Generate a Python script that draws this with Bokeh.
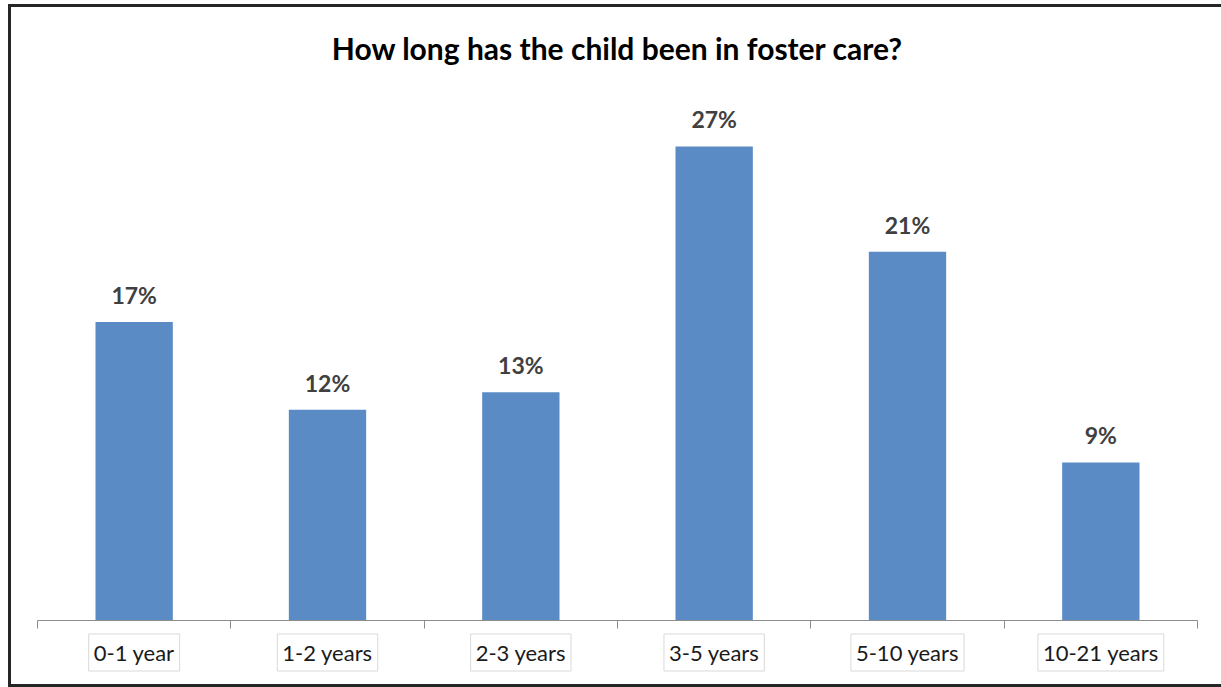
from bokeh.plotting import figure
from bokeh.models import ColumnDataSource, Range1d, FixedTicker, Label
from bokeh.core.properties import value
from bokeh.embed import file_html
from bokeh.resources import INLINE

# Survey responses: time spent in foster care
categories = ["0-1 year", "1-2 years", "2-3 years", "3-5 years", "5-10 years", "10-21 years"]
percent = [17, 12, 13, 27, 21, 9]
title_text = "How long has the child been in foster care?"

FONT = "Lato"
W, H = 1210, 677          # canvas inside the frame line
OFF_X, OFF_Y = 11, 7      # canvas offset on the page
TOP_PANEL = 20            # space above the plotting area

# page pixel geometry of the category axis
AXIS_LEFT, AXIS_RIGHT, BASELINE = 37, 1197, 620
PX_PER_UNIT_X = (AXIS_RIGHT - AXIS_LEFT) / len(categories)
PX_PER_PCT = 17.56

frame_left, frame_right = OFF_X, OFF_X + W
frame_top, frame_bottom = OFF_Y + TOP_PANEL, OFF_Y + H

x_range = Range1d((frame_left - AXIS_LEFT) / PX_PER_UNIT_X,
                  (frame_right - AXIS_LEFT) / PX_PER_UNIT_X)
y_range = Range1d((BASELINE - frame_bottom) / PX_PER_PCT,
                  (BASELINE - frame_top) / PX_PER_PCT)

def page_y(py):
    return (BASELINE - py) / PX_PER_PCT

p = figure(width=W, height=H, output_backend="svg", toolbar_location=None,
           x_range=x_range, y_range=y_range,
           x_axis_location="above", y_axis_location=None,
           min_border_left=0, min_border_right=0,
           min_border_top=TOP_PANEL, min_border_bottom=0)
p.outline_line_color = None
p.grid.visible = False
p.background_fill_color = "white"
p.border_fill_color = "white"
# dark frame line on the left, top and bottom, just outside the canvas;
# the negative bottom margin keeps the page from growing a scrollbar
FRAME = "#262626"
p.styles = {"margin-left": f"{OFF_X}px", "margin-top": f"{OFF_Y}px",
            "margin-bottom": "-12px", "vertical-align": "top",
            "box-shadow": (f"-3px 0 0 0 {FRAME}, 0 -3px 0 0 {FRAME}, 0 3px 0 0 {FRAME}, "
                           f"-3px -3px 0 0 {FRAME}, -3px 3px 0 0 {FRAME}")}

# category axis sitting on zero, with ticks at the group boundaries
ax = p.xaxis[0]
ax.fixed_location = 0
ax.bounds = (0, len(categories))
ax.ticker = FixedTicker(ticks=[], minor_ticks=list(range(len(categories) + 1)))
ax.major_tick_line_color = None
ax.minor_tick_in = 8
ax.minor_tick_out = 0
ax.minor_tick_line_color = "#8c8c8c"
ax.axis_line_color = "#8c8c8c"

centers = [i + 0.5 for i in range(len(categories))]
src = ColumnDataSource(dict(
    x=centers,
    top=percent,
    label=[f"{v}%" for v in percent],
))

p.vbar(x="x", top="top", width=0.4, bottom=0, source=src,
       fill_color="#5b8bc5", line_color=None)

p.text(x="x", y="top", text="label", source=src,
       text_align="center", text_baseline="middle", y_offset=-27,
       text_font=value(FONT), text_font_style="bold",
       text_font_size="23px", text_color="#404040")

# category names in light boxes under the axis
for c, name in zip(centers, categories):
    p.add_layout(Label(x=c, y=page_y(652), text=name,
                       text_align="center", text_baseline="middle",
                       text_font=FONT, text_font_size="22px", text_color="#1a1a1a",
                       padding=5, border_line_color="#d9d9d9", border_line_width=1,
                       background_fill_color="white"))

# chart title
p.add_layout(Label(x=len(categories) / 2, y=page_y(47), text=title_text,
                   text_align="center", text_baseline="middle",
                   text_font=FONT, text_font_style="bold",
                   text_font_size="30px", text_color="#000000"))

open("out.html", "w").write(file_html(p, INLINE))
